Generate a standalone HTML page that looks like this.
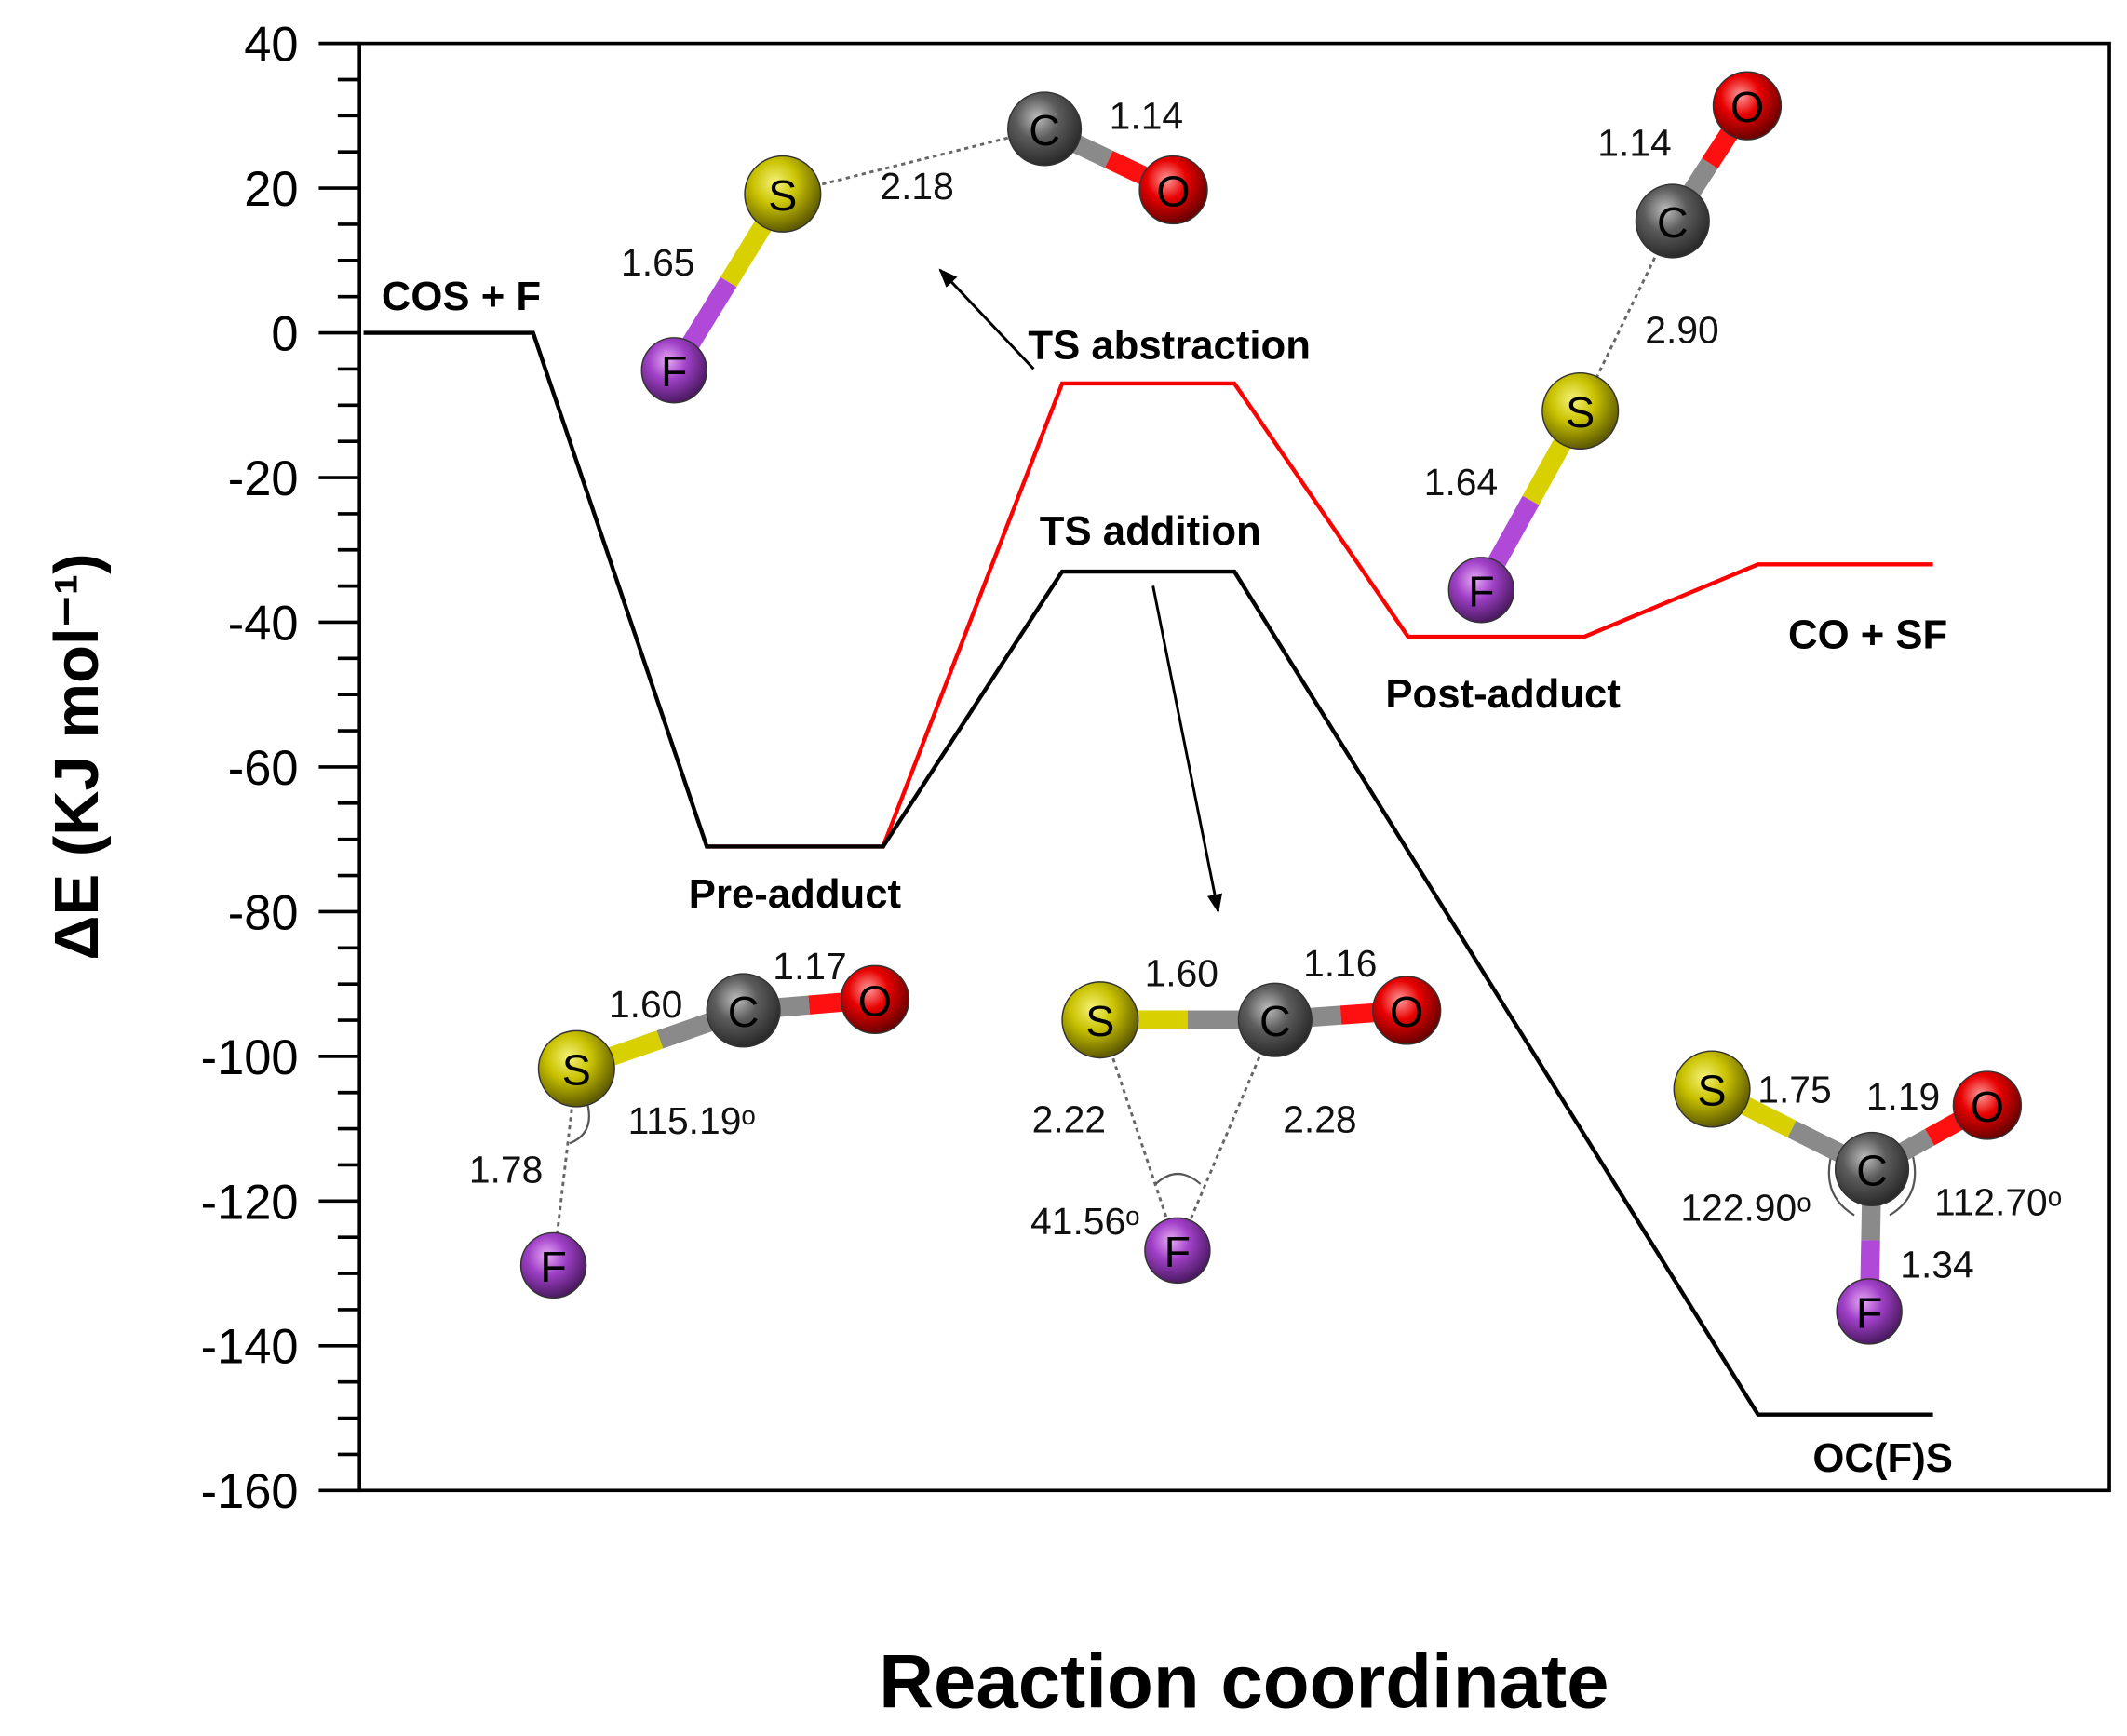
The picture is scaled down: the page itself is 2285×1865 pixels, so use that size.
<!DOCTYPE html>
<html><head><meta charset="utf-8"><style>
html,body{margin:0;padding:0;background:#fff}
svg{display:block}
</style></head><body>
<svg id="chart" width="2285" height="1865" viewBox="0 0 1568 1280" preserveAspectRatio="none" xmlns="http://www.w3.org/2000/svg">
<defs>
<radialGradient id="gS" cx="0.4" cy="0.35" r="0.65"><stop offset="0" stop-color="#f6f27a"/><stop offset="0.45" stop-color="#c9c200"/><stop offset="1" stop-color="#5e5a00"/></radialGradient>
<radialGradient id="gC" cx="0.4" cy="0.35" r="0.65"><stop offset="0" stop-color="#bdbdbd"/><stop offset="0.45" stop-color="#5c5c5c"/><stop offset="1" stop-color="#2a2a2a"/></radialGradient>
<radialGradient id="gO" cx="0.4" cy="0.35" r="0.65"><stop offset="0" stop-color="#ff9a9a"/><stop offset="0.45" stop-color="#e80000"/><stop offset="1" stop-color="#6a0000"/></radialGradient>
<radialGradient id="gF" cx="0.4" cy="0.35" r="0.65"><stop offset="0" stop-color="#e7a8f5"/><stop offset="0.45" stop-color="#a040c8"/><stop offset="1" stop-color="#4c1a62"/></radialGradient>
<marker id="arr" viewBox="0 0 10 10" refX="9" refY="5" markerWidth="7" markerHeight="7" orient="auto"><path d="M0,1 L10,5 L0,9 z" fill="#000"/></marker>
</defs>
<g id="plot"></g>
</svg>
<script>
// ---- chart data ----
const yTicks = [40, 20, 0, -20, -40, -60, -80, -100, -120, -140, -160];
const blackStages = ["COS + F", "Pre-adduct", "TS addition", "OC(F)S"];
const blackStart = [0.03, 2.56, 5.18, 10.31];
const blackEnd = [1.28, 3.86, 6.45, 11.60];
const blackEnergy = [0, -71, -33, -149.5];
const redStages = ["Pre-adduct", "TS abstraction", "Post-adduct", "CO + SF"];
const redStart = [2.56, 5.18, 7.73, 10.31];
const redEnd = [3.86, 6.45, 9.03, 11.60];
const redEnergy = [-71, -7, -42, -32];

const NS = "http://www.w3.org/2000/svg";
const plot = document.getElementById("plot");
const X0 = 265, X1 = 1555, Y0 = 32, Y1 = 1099;
const yMin = -160, yMax = 40;
function yS(v){ return Y1 - (v - yMin) / (yMax - yMin) * (Y1 - Y0); }
function xS(u){ return X0 + u * 100; }
function mk(tag, attrs, parent){ const e = document.createElementNS(NS, tag); for (const k in attrs) e.setAttribute(k, attrs[k]); (parent||plot).appendChild(e); return e; }
function txt(s, x, y, size, opts, parent){ const t = mk("text", Object.assign({x:x, y:y, "font-size":size, "font-family":"Liberation Sans, sans-serif", fill:"#000"}, opts||{}), parent); t.textContent = s; return t; }

const frame = mk("rect", {x:X0, y:Y0, width:X1-X0, height:Y1-Y0, fill:"none", stroke:"#000", "stroke-width":2.5});



const yAxisG = mk("g", {});


for (let v = yMin; v <= yMax; v += 5) {
  const major = (v % 20 === 0);
  mk("line", {x1: major ? X0-30 : X0-16, x2: X0, y1: yS(v), y2: yS(v), stroke:"#000", "stroke-width":2.5}, yAxisG);
}
yTicks.forEach(v => {
  const t = txt(String(v), X0-45, yS(v)+13, 36, {"text-anchor":"end"}, yAxisG);
  
  
});

const yt = txt("ΔE (KJ mol⁻¹)", 0, 0, 46, {"font-weight":"bold", "text-anchor":"middle", transform:"translate(72,558) rotate(-90)"});


const xt = txt("Reaction coordinate", 917, 1259, 56, {"font-weight":"bold", "text-anchor":"middle"});



function seriesPath(starts, ends, energies){
  let d = "";
  for (let i = 0; i < starts.length; i++) {
    d += (i === 0 ? "M" : "L") + xS(starts[i]) + "," + yS(energies[i]) + " L" + xS(ends[i]) + "," + yS(energies[i]) + " ";
  }
  return d;
}
const redLine = mk("path", {d: seriesPath(redStart, redEnd, redEnergy), fill:"none", stroke:"#ff0000", "stroke-width":3, "stroke-linejoin":"miter"});


const blackLine = mk("path", {d: seriesPath(blackStart, blackEnd, blackEnergy), fill:"none", stroke:"#000", "stroke-width":3, "stroke-linejoin":"miter"});



function stageLabel(s, u, v, dy, name){
  const t = txt(s, xS(u), yS(v)+dy, 30, {"font-weight":"bold", "text-anchor":"middle", "font-family":"Liberation Sans Narrow, Liberation Sans, sans-serif"});
  
  
}
stageLabel(blackStages[0], 0.75, blackEnergy[0], -17, 'label-cos-f');
stageLabel(blackStages[1], 3.21, blackEnergy[1], 45, 'label-pre-adduct');
stageLabel(blackStages[2], 5.83, blackEnergy[2], -20, 'label-ts-addition');
stageLabel(blackStages[3], 11.23, blackEnergy[3], 42, 'label-ocfs');
stageLabel(redStages[1], 5.97, redEnergy[1], -18, 'label-ts-abstraction');
stageLabel(redStages[2], 8.43, redEnergy[2], 52, 'label-post-adduct');
stageLabel(redStages[3], 11.12, redEnergy[3], 62, 'label-co-sf');

const a1 = mk("line", {x1:762, y1:272, x2:693, y2:199, stroke:"#000", "stroke-width":2, "marker-end":"url(#arr)"});


const a2 = mk("line", {x1:850, y1:432, x2:898, y2:672, stroke:"#000", "stroke-width":2, "marker-end":"url(#arr)"});



const col = {S:"#d8d000", C:"#8a8a8a", O:"#ff1010", F:"#b048d8"};
const rad = {S:28, C:27, O:25, F:24};
function molecule(name, atoms, bonds, dashed, labels, arcs){
  const g = mk("g", {});
  
  
  dashed.forEach(b => {
    const p = atoms[b[0]], q = atoms[b[1]];
    mk("line", {x1:p[1], y1:p[2], x2:q[1], y2:q[2], stroke:"#666", "stroke-width":2, "stroke-dasharray":"3,3"}, g);
  });
  (arcs||[]).forEach(a => mk("path", {d:a, fill:"none", stroke:"#555", "stroke-width":1.5}, g));
  bonds.forEach(b => {
    const p = atoms[b[0]], q = atoms[b[1]];
    const mx = (p[1]+q[1])/2, my = (p[2]+q[2])/2;
    mk("line", {x1:p[1], y1:p[2], x2:mx, y2:my, stroke:col[p[0]], "stroke-width":14}, g);
    mk("line", {x1:mx, y1:my, x2:q[1], y2:q[2], stroke:col[q[0]], "stroke-width":14}, g);
  });
  atoms.forEach(a => {
    mk("circle", {cx:a[1], cy:a[2], r:rad[a[0]], fill:"url(#g"+a[0]+")", stroke:"#333", "stroke-width":1}, g);
    txt(a[0], a[1], a[2]+12, 32, {"text-anchor":"middle"}, g);
  });
  labels.forEach(l => txt(l[0], l[1], l[2], 28, {"text-anchor":"middle", fill:"#111"}, g));
}
molecule('molecule-ts-abstraction',
  [["S",577,143],["F",497,273],["C",770,95],["O",865,140]],
  [[0,1],[2,3]], [[0,2]],
  [["1.14",845,95],["2.18",676,147],["1.65",485,203]]);
molecule('molecule-post-adduct',
  [["O",1288,78],["C",1233,163],["S",1165,303],["F",1092,435]],
  [[0,1],[2,3]], [[1,2]],
  [["1.14",1205,115],["2.90",1240,253],["1.64",1077,365]]);
molecule('molecule-pre-adduct',
  [["S",425,788],["C",548,745],["O",645,737],["F",408,933]],
  [[0,1],[1,2]], [[0,3]],
  [["1.60",476,750],["1.17",597,722],["115.19ᵒ",510,836],["1.78",373,872]],
  ["M432,810 Q440,835 420,843"]);
molecule('molecule-ts-addition',
  [["S",811,752],["C",940,752],["O",1037,745],["F",868,922]],
  [[0,1],[1,2]], [[0,3],[1,3]],
  [["1.60",871,727],["1.16",988,720],["2.22",788,835],["2.28",973,835],["41.56ᵒ",800,910]],
  ["M852,873 Q868,858 885,873"]);
molecule('molecule-ocfs',
  [["S",1262,803],["C",1380,862],["O",1465,815],["F",1378,967]],
  [[0,1],[1,2],[1,3]], [],
  [["1.75",1323,813],["1.19",1403,818],["122.90ᵒ",1287,900],["112.70ᵒ",1473,896],["1.34",1428,942]],
  ["M1352,845 Q1340,880 1367,896","M1408,845 Q1420,880 1393,896"]);
</script>
</body></html>
